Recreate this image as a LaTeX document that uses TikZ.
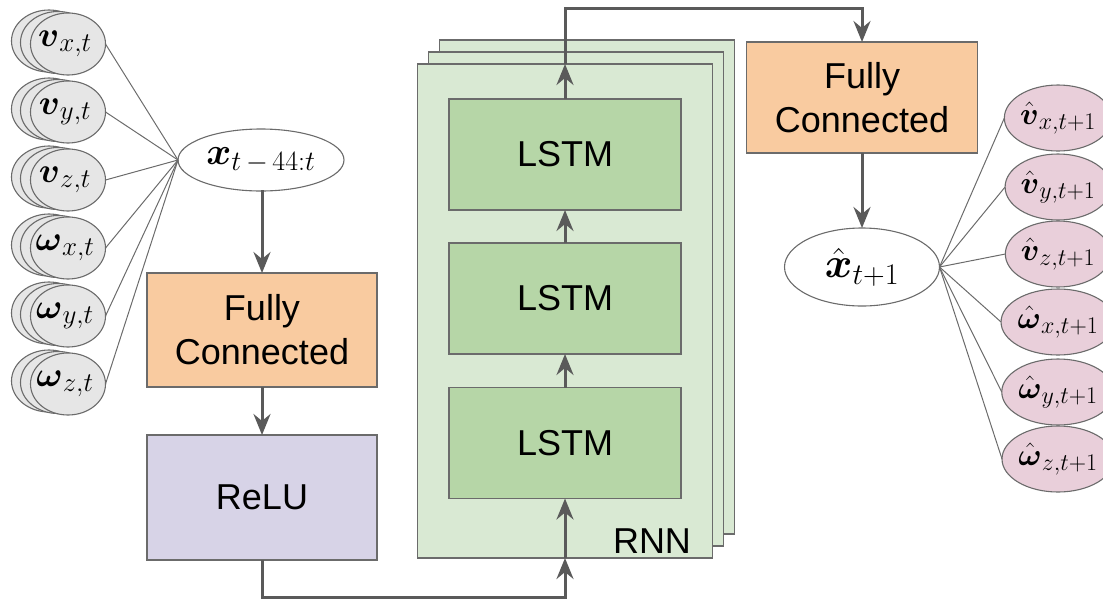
\RequirePackage{fix-cm}
\documentclass[tikz,border=0pt]{standalone}
\usepackage{amsmath}
\usepackage{fontspec}
\setmainfont{Liberation Sans}
\usetikzlibrary{shapes.geometric,arrows.meta}

% math size sets for the large labels
\DeclareMathSizes{35}{35}{27}{20}
\DeclareMathSizes{31}{31}{24}{18}
\DeclareMathSizes{38}{38}{28}{20}
\DeclareMathSizes{42}{42}{30}{22}

\definecolor{edge}{HTML}{6B6B6B}
\definecolor{arrowc}{HTML}{5A5A5A}
\definecolor{ingray}{HTML}{E6E6E6}
\definecolor{fcfill}{HTML}{F9CBA0}
\definecolor{relufill}{HTML}{D7D3E7}
\definecolor{lstmfill}{HTML}{B6D6A7}
\definecolor{rnnfill}{HTML}{D9E9D3}
\definecolor{outfill}{HTML}{E9CFDA}

\begin{document}
\begin{tikzpicture}[x=1pt,y=-1pt,
  every node/.style={inner sep=0pt,outer sep=0pt},
  blk/.style={draw=edge,line width=1.3pt,align=center,
    font=\fontsize{36}{44}\selectfont},
  fcbox/.style={blk,fill=fcfill,minimum width=230pt,minimum height=114pt},
  relubox/.style={blk,fill=relufill,minimum width=230pt,minimum height=125pt},
  lstmbox/.style={blk,fill=lstmfill,minimum width=232pt,minimum height=111pt},
  frame/.style={draw=edge,line width=1.3pt,fill=rnnfill,minimum width=295pt,minimum height=494pt},
  inell/.style={ellipse,draw=edge,line width=1.1pt,fill=ingray,minimum width=75pt,minimum height=62pt},
  intext/.style={font=\fontsize{35}{40}\selectfont},
  outell/.style={ellipse,draw=edge,line width=1.1pt,fill=outfill,minimum width=90pt,minimum height=66pt,font=\fontsize{31}{36}\selectfont},
  vecell/.style={ellipse,draw=edge,line width=1.1pt,fill=white},
  fan/.style={draw=edge,line width=1pt},
  arr/.style={draw=arrowc,line width=3pt,-{Stealth[length=21pt,width=17pt,inset=7pt]}}
]
\useasboundingbox (0,0) rectangle (1103,603);

% input feature groups (stacked time steps)
\foreach \n/\lab/\yy in {vx/{\boldsymbol{v}_{x,t}}/44, vy/{\boldsymbol{v}_{y,t}}/112,
    vz/{\boldsymbol{v}_{z,t}}/180, wx/{\boldsymbol{\omega}_{x,t}}/248,
    wy/{\boldsymbol{\omega}_{y,t}}/316, wz/{\boldsymbol{\omega}_{z,t}}/384}{
  \node[inell] (\n-b) at (49,\yy-3) {};
  \node[inell] (\n-m) at (58,\yy-1.5) {};
  \node[inell] (\n) at (68,\yy) {};
  \node[intext] (\n-t) at ([xshift=-3pt]\n.center) {$\lab$};
}

% input window
\node[vecell,minimum width=166pt,minimum height=62pt,font=\fontsize{38}{44}\selectfont]
  (xin) at (261,160) {$\boldsymbol{x}_{t\mskip3mu-\mskip3mu44:t}$};
\foreach \n in {vx,vy,vz,wx,wy,wz}{
  \draw[fan] (\n.east) -- (xin.west);
}

% encoder
\node[fcbox] (fc1) at (262,330) {Fully\\Connected};
\node[relubox] (relu) at (262,497.5) {ReLU};

% recurrent block
\node[frame] (rnn3) at (587,287) {};
\node[frame] (rnn2) at (576,299) {};
\node[frame] (rnn) at (565,311) {};
\node[font=\fontsize{36}{40}\selectfont] (rnnlab) at (652,541) {RNN};
\node[lstmbox] (l1) at (565,154.5) {LSTM};
\node[lstmbox] (l2) at (565,298.5) {LSTM};
\node[lstmbox] (l3) at (565,443) {LSTM};

% decoder
\node[fcbox,minimum width=231pt,minimum height=111pt] (fc2) at (862,97.5) {Fully\\Connected};
\node[vecell,minimum width=155pt,minimum height=78pt,font=\fontsize{42}{48}\selectfont]
  (xout) at (862,267) {$\hat{\boldsymbol{x}}_{t+1}$};

% predicted features
\foreach \n/\lab/\yy in {ovx/{\hat{\boldsymbol{v}}_{x,t+1}}/118, ovy/{\hat{\boldsymbol{v}}_{y,t+1}}/187,
    ovz/{\hat{\boldsymbol{v}}_{z,t+1}}/254, owx/{\hat{\boldsymbol{\omega}}_{x,t+1}}/322,
    owy/{\hat{\boldsymbol{\omega}}_{y,t+1}}/392, owz/{\hat{\boldsymbol{\omega}}_{z,t+1}}/459}{
  \node[outell] (\n) at (1058,\yy) {$\lab$};
  \draw[fan] (xout.east) -- (\n.west);
}

% data flow
\coordinate (bot) at (0,597);
\coordinate (top) at (0,8);
\draw[arr] (xin.south) -- (xin.south -| fc1.north) -- (fc1.north);
\draw[arr] (fc1.south) -- (relu.north);
\draw[arr] (relu.south) -- (relu.south |- bot) -| (rnn.south);
\draw[arr] (rnn.south) -- (l3.south);
\draw[arr] (l3.north) -- (l2.south);
\draw[arr] (l2.north) -- (l1.south);
\draw[arr] (l1.north) -- (rnn.north);
\draw[arr] (rnn.north) -- (rnn.north |- top) -| (fc2.north);
\draw[arr] (fc2.south) -- (xout.north);
\end{tikzpicture}
\end{document}
